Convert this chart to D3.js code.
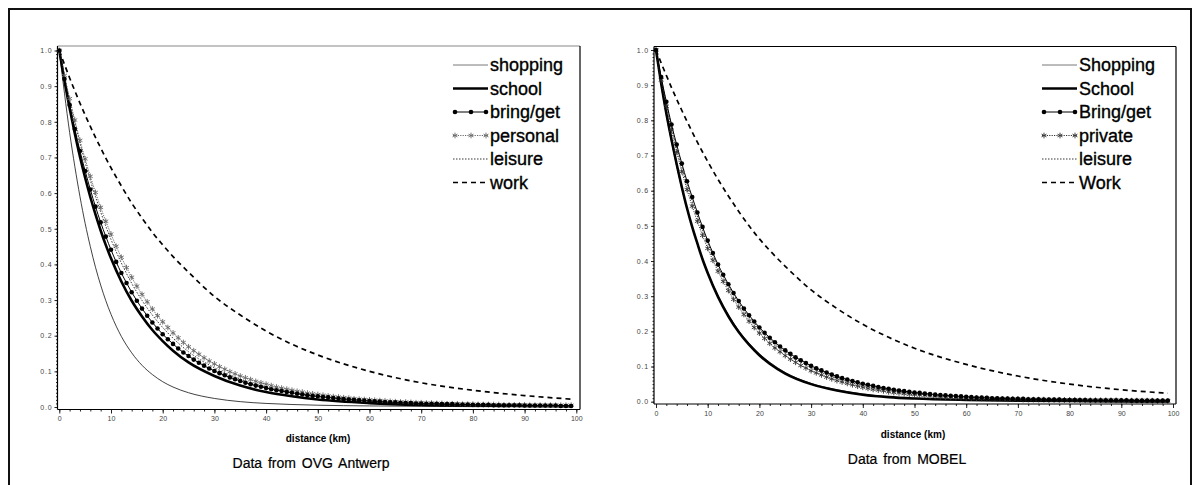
<!DOCTYPE html>
<html>
<head>
<meta charset="utf-8">
<script src="https://cdn.jsdelivr.net/npm/d3@7"></script>
<style>
  body { margin: 0; background: #fff; }
  svg { display: block; font-family: "Liberation Sans", Arial, sans-serif; }
  .tick text { font-size: 7px; fill: #444; }
  .y-ticks .tick text { letter-spacing: 0.8px; }
  .tick line { stroke: #222; }
  .legend-text { font-size: 18px; fill: #000; stroke: #000; stroke-width: 0.35px; }
  .axis-label { font-size: 10px; font-weight: bold; fill: #000; }
  .caption { font-size: 14px; fill: #000; stroke: #000; stroke-width: 0.2px; word-spacing: 2px; }
</style>
</head>
<body>
<svg width="1199" height="485"></svg>
<script>
// distance grids (km)
const kmKnots = [0, 1, 2, 3, 4, 5, 6, 7, 8, 9, 10, 12, 14, 16, 18, 20, 22, 25, 30, 35, 40, 45, 50, 60, 70, 80, 90, 99];
const kmAll = d3.range(0, 100);

// ---- OVG Antwerp (left) ----
const ovgShopping = [1, .88, .77, .675, .59, .515, .45, .392, .342, .298, .26, .198, .152, .117, .091, .071, .056, .04, .024, .015, .01, .007, .005, .003, .002, .001, .001, .001];
const ovgSchool = [1, .915, .838, .767, .702, .643, .589, .54, .495, .454, .417, .352, .298, .254, .216, .185, .158, .125, .087, .06, .042, .03, .021, .011, .006, .004, .003, .002];
const ovgLeisure = [1, .928, .86, .798, .74, .686, .636, .59, .547, .507, .47, .404, .347, .299, .258, .223, .193, .155, .11, .078, .056, .041, .03, .017, .01, .007, .005, .004];
const ovgWork = [1, .961, .923, .887, .852, .819, .787, .756, .727, .698, .671, .62, .572, .53, .49, .455, .422, .378, .31, .258, .213, .176, .146, .1, .068, .047, .032, .022];
const ovgBringGet = [
  1, .92, .847, .78, .718, .662, .61, .562, .518, .478,
  .441, .407, .376, .348, .322, .298, .276, .256, .237, .22,
  .204, .19, .177, .164, .153, .143, .133, .124, .116, .108,
  .101, .095, .089, .083, .078, .073, .068, .064, .06, .057,
  .053, .05, .047, .045, .042, .04, .037, .035, .033, .031,
  .03, .028, .027, .025, .024, .022, .021, .02, .019, .018,
  .017, .016, .015, .014, .013, .013, .012, .011, .011, .01,
  .01, .009, .009, .009, .008, .008, .008, .007, .007, .007,
  .006, .006, .006, .006, .005, .005, .005, .005, .005, .005,
  .004, .004, .004, .004, .004, .004, .004, .003, .003, .003];
const ovgPersonal = [
  1, .93, .865, .805, .748, .696, .647, .602, .56, .521,
  .485, .451, .42, .391, .364, .339, .316, .295, .275, .256,
  .239, .223, .208, .194, .181, .169, .158, .148, .138, .129,
  .121, .113, .106, .099, .093, .087, .082, .077, .072, .068,
  .064, .06, .056, .053, .05, .047, .044, .042, .039, .037,
  .035, .033, .031, .029, .028, .026, .025, .023, .022, .021,
  .02, .019, .018, .017, .016, .015, .014, .014, .013, .012,
  .012, .011, .011, .01, .01, .009, .009, .009, .008, .008,
  .008, .007, .007, .007, .007, .007, .006, .006, .006, .006,
  .006, .005, .005, .005, .005, .005, .005, .005, .005, .005];

// ---- MOBEL (right) ----
const mobShopping = [1, .9, .815, .74, .67, .606, .548, .496, .45, .406, .368, .302, .247, .202, .166, .136, .112, .083, .052, .034, .022, .014, .01, .005, .003, .002, .001, .001];
const mobSchool = [1, .905, .82, .745, .675, .61, .55, .497, .45, .405, .366, .298, .243, .198, .162, .132, .108, .08, .05, .032, .02, .013, .009, .005, .003, .002, .001, .001];
const mobLeisure = [1, .92, .848, .782, .722, .667, .617, .571, .528, .488, .451, .385, .329, .282, .241, .207, .178, .142, .097, .067, .047, .033, .023, .012, .007, .004, .003, .002];
const mobWork = [1, .963, .928, .893, .86, .828, .797, .767, .738, .71, .683, .632, .585, .541, .5, .463, .43, .385, .318, .265, .22, .183, .152, .106, .073, .05, .034, .024];
const mobBringGet = [
  1, .923, .853, .788, .731, .677, .627, .582, .538, .497,
  .458, .423, .39, .361, .334, .309, .286, .265, .246, .228,
  .211, .196, .182, .169, .157, .146, .136, .126, .118, .11,
  .102, .095, .089, .083, .077, .072, .067, .063, .059, .055,
  .051, .048, .045, .042, .039, .037, .034, .032, .03, .028,
  .026, .025, .023, .022, .02, .019, .018, .017, .016, .015,
  .014, .013, .012, .012, .011, .01, .01, .009, .009, .008,
  .008, .008, .007, .007, .007, .006, .006, .006, .006, .005,
  .005, .005, .005, .005, .004, .004, .004, .004, .004, .004,
  .004, .004, .003, .003, .003, .003, .003, .003, .003, .003];
const mobPrivate = [
  1, .915, .84, .772, .71, .654, .603, .556, .513, .473,
  .436, .402, .371, .342, .316, .291, .269, .248, .229, .211,
  .195, .18, .166, .153, .142, .131, .121, .112, .103, .096,
  .088, .082, .076, .07, .065, .06, .056, .052, .048, .044,
  .041, .038, .035, .033, .031, .028, .026, .025, .023, .021,
  .02, .019, .018, .016, .015, .014, .013, .013, .012, .011,
  .011, .01, .01, .009, .009, .008, .008, .008, .007, .007,
  .007, .006, .006, .006, .006, .006, .005, .005, .005, .005,
  .005, .005, .004, .004, .004, .004, .004, .004, .004, .004,
  .003, .003, .003, .003, .003, .003, .003, .002, .002, .002];

const ovgLabels = ["shopping", "school", "bring/get", "personal", "leisure", "work"];
const mobLabels = ["Shopping", "School", "Bring/get", "private", "leisure", "Work"];
const xTicks = [0, 10, 20, 30, 40, 50, 60, 70, 80, 90, 100];
const yTicks = [0, 0.1, 0.2, 0.3, 0.4, 0.5, 0.6, 0.7, 0.8, 0.9, 1.0];

const svg = d3.select("svg");

// outer frame (open at the bottom)
svg.append("rect")
  .attr("x", 9).attr("y", 9)
  .attr("width", 1182).attr("height", 520)
  .attr("fill", "none").attr("stroke", "#111").attr("stroke-width", 2);

const styles = {
  shopping: { width: 0.8, dash: null, color: "#111" },
  school: { width: 2.6, dash: null, color: "#000" },
  bring: { width: 1, dash: null, color: "#000" },
  personal: { width: 1, dash: "1.2,1.2", color: "#555" },
  leisure: { width: 0.9, dash: "1.5,1.5", color: "#222" },
  work: { width: 1.7, dash: "5,4", color: "#000" }
};

const render = p => {
  const xScale = d3.scaleLinear().domain([0, 100]).range([p.x0, p.x100]);
  const yScale = d3.scaleLinear().domain([0, 1]).range([p.yZero, p.yOne]);
  const g = svg.append("g");

  // y axis
  const yAxisG = g.append("g").attr("transform", `translate(${p.left},0)`);
  yAxisG.call(d3.axisLeft(yScale).tickValues(d3.range(0, 1.001, 0.01)).tickSize(1.5).tickFormat(""));
  yAxisG.append("g").attr("class", "y-ticks")
    .call(d3.axisLeft(yScale).tickValues(yTicks).tickSize(3).tickPadding(2).tickFormat(d3.format(".1f")));
  yAxisG.selectAll(".domain").remove();

  // x axis
  const xAxisG = g.append("g").attr("transform", `translate(0,${p.bottom})`);
  xAxisG.call(d3.axisBottom(xScale).tickValues(d3.range(0, 101, 2)).tickSize(2).tickFormat(""));
  xAxisG.append("g").call(d3.axisBottom(xScale).tickValues(xTicks).tickSize(4).tickPadding(3));
  xAxisG.selectAll(".domain").remove();

  // frame
  g.append("line").attr("x1", p.left).attr("x2", p.right).attr("y1", p.top).attr("y2", p.top)
    .attr("stroke", p.topColor).attr("stroke-width", 1.2);
  g.append("line").attr("x1", p.right).attr("x2", p.right).attr("y1", p.top).attr("y2", p.bottom)
    .attr("stroke", "#000").attr("stroke-width", 1.2);
  g.append("line").attr("x1", p.left).attr("x2", p.left).attr("y1", p.top).attr("y2", p.bottom)
    .attr("stroke", "#000").attr("stroke-width", 1.2);
  g.append("line").attr("x1", p.left).attr("x2", p.right).attr("y1", p.bottom).attr("y2", p.bottom)
    .attr("stroke", "#000").attr("stroke-width", 1.2);

  const smooth = d3.line().x(d => xScale(d[0])).y(d => yScale(d[1])).curve(d3.curveMonotoneX);
  const drawLine = (xs, ys, st) => {
    g.append("path")
      .datum(xs.map((x, i) => [x, ys[i]]))
      .attr("d", smooth)
      .attr("fill", "none")
      .attr("stroke", st.color)
      .attr("stroke-width", st.width)
      .attr("stroke-dasharray", st.dash);
  };

  drawLine(kmKnots, p.shopping, styles.shopping);
  drawLine(kmKnots, p.work, styles.work);
  drawLine(kmKnots, p.leisure, styles.leisure);
  drawLine(kmKnots, p.school, styles.school);
  drawLine(kmAll, p.personal, { ...styles.personal, color: p.starColor });
  drawLine(kmAll, p.bring, styles.bring);

  const star = d3.symbol().type(d3.symbolAsterisk).size(22);
  g.append("g").selectAll("path")
    .data(kmAll.map((x, i) => [x, p.personal[i]]))
    .enter().append("path")
    .attr("transform", d => `translate(${xScale(d[0])},${yScale(d[1])})`)
    .attr("d", star)
    .attr("fill", "none")
    .attr("stroke", p.starColor)
    .attr("stroke-width", 0.9);

  g.append("g").selectAll("circle")
    .data(kmAll.map((x, i) => [x, p.bring[i]]))
    .enter().append("circle")
    .attr("cx", d => xScale(d[0]))
    .attr("cy", d => yScale(d[1]))
    .attr("r", 2.3)
    .attr("fill", "#000");

  // legend
  const legendKeys = ["shopping", "school", "bring", "personal", "leisure", "work"];
  legendKeys.forEach((k, i) => {
    const y = 65 + i * 23.5;
    const st = k === "personal" ? { ...styles.personal, color: p.starColor } : styles[k];
    g.append("line")
      .attr("x1", p.legendX).attr("x2", p.legendX + 35)
      .attr("y1", y).attr("y2", y)
      .attr("stroke", k === "shopping" ? "#555" : st.color)
      .attr("stroke-width", st.width)
      .attr("stroke-dasharray", st.dash);
    if (k === "bring") {
      [2, 18, 33].forEach(dx => g.append("circle").attr("cx", p.legendX + dx).attr("cy", y).attr("r", 2.3).attr("fill", "#000"));
    }
    if (k === "personal") {
      [2, 18, 33].forEach(dx => g.append("path").attr("transform", `translate(${p.legendX + dx},${y})`)
        .attr("d", star).attr("fill", "none").attr("stroke", p.starColor).attr("stroke-width", 0.9));
    }
    g.append("text")
      .attr("class", "legend-text")
      .attr("x", p.legendX + 37)
      .attr("y", y)
      .attr("dy", "0.36em")
      .text(p.labels[i]);
  });

  g.append("text")
    .attr("class", "axis-label")
    .attr("x", p.xLabelX).attr("y", p.xLabelY)
    .attr("text-anchor", "middle").attr("dy", "0.35em")
    .text("distance (km)");

  g.append("text")
    .attr("class", "caption")
    .attr("x", p.captionX).attr("y", p.captionY)
    .attr("text-anchor", "middle").attr("dy", "0.35em")
    .text(p.caption);
};

render({
  x0: 59.3, x100: 576.3, yZero: 407, yOne: 50.5,
  left: 57.5, right: 580, top: 46, bottom: 409.5, topColor: "#888",
  shopping: ovgShopping, school: ovgSchool, bring: ovgBringGet, personal: ovgPersonal,
  leisure: ovgLeisure, work: ovgWork, starColor: "#666",
  labels: ovgLabels, legendX: 453,
  xLabelX: 318, xLabelY: 438, captionX: 311, captionY: 463, caption: "Data from OVG Antwerp"
});

render({
  x0: 656, x100: 1173, yZero: 401.7, yOne: 50,
  left: 654, right: 1176, top: 46.5, bottom: 404, topColor: "#000",
  shopping: mobShopping, school: mobSchool, bring: mobBringGet, personal: mobPrivate,
  leisure: mobLeisure, work: mobWork, starColor: "#333",
  labels: mobLabels, legendX: 1042,
  xLabelX: 913, xLabelY: 434, captionX: 907, captionY: 459, caption: "Data from MOBEL"
});
</script>
</body>
</html>
